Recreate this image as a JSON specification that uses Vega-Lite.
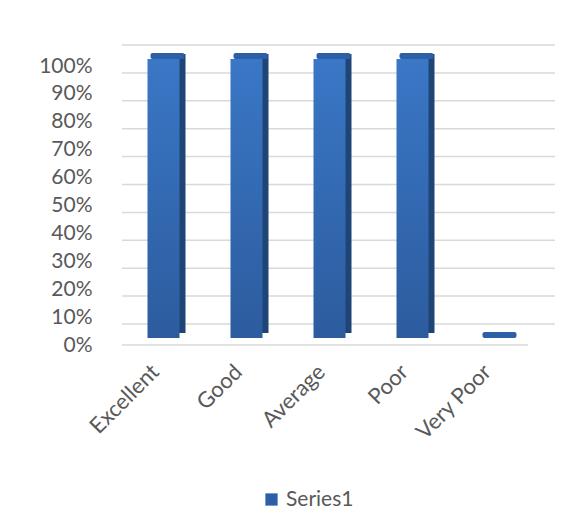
{
  "$schema": "https://vega.github.io/schema/vega-lite/v6.json",
  "autosize": "none",
  "width": 415,
  "height": 279,
  "padding": {"left": 122, "top": 59, "right": 51, "bottom": 191},
  "background": "white",
  "config": {"view": {"stroke": null}, "font": "Lato"},
  "datasets": {
    "bars": [
      {"cat": "Excellent", "value": 1, "series": "Series1"},
      {"cat": "Good", "value": 1, "series": "Series1"},
      {"cat": "Average", "value": 1, "series": "Series1"},
      {"cat": "Poor", "value": 1, "series": "Series1"},
      {"cat": "Very Poor", "value": 0, "series": "Series1"}
    ],
    "grid": [
      {"value": 0}, {"value": 0.1}, {"value": 0.2}, {"value": 0.3}, {"value": 0.4}, {"value": 0.5},
      {"value": 0.6}, {"value": 0.7}, {"value": 0.8}, {"value": 0.9}, {"value": 1}
    ]
  },
  "encoding": {
    "y": {"field": "value", "type": "quantitative", "scale": {"domain": [0, 1]},
          "axis": {"title": null, "domain": false, "ticks": false, "grid": false, "format": ".0%",
                   "values": [0, 0.1, 0.2, 0.3, 0.4, 0.5, 0.6, 0.7, 0.8, 0.9, 1], "tickCount": 11, "labelOverlap": false,
                   "labelOffset": 7, "labelPadding": 30, "labelFontSize": 21, "labelColor": "#595959", "labelFont": "Lato"}}
  },
  "layer": [
    {
      "data": {"name": "grid"},
      "mark": {"type": "rule", "color": "#D9D9D9", "strokeWidth": 1.5, "xOffset": 18, "x2Offset": 16, "yOffset": -14},
      "encoding": {}
    },
    {
      "data": {"name": "grid"},
      "transform": [{"filter": "datum.value == 0"}],
      "mark": {"type": "rule", "color": "#D9D9D9", "strokeWidth": 1.5, "xOffset": -9, "x2Offset": -10, "yOffset": 7},
      "encoding": {}
    },
    {
      "data": {"name": "bars"},
      "mark": {"type": "bar", "size": 32, "xOffset": 6, "yOffset": -5, "y2Offset": -5, "color": "#1F4476"},
      "encoding": {
        "x": {"field": "cat", "type": "nominal", "sort": null,
              "scale": {"paddingInner": 0, "paddingOuter": 0},
              "axis": {"title": null, "domain": false, "ticks": false, "labelAngle": -45, "labelAlign": "right", "labelBaseline": "middle",
                       "labelPadding": 30, "labelOffset": -8, "labelFontSize": 22, "labelColor": "#595959", "labelFont": "Lato", "labelFontWeight": "normal"}}
      }
    },
    {
      "data": {"name": "bars"},
      "mark": {"type": "bar", "size": 32, "color": {"gradient": "linear", "x1": 0, "y1": 0, "x2": 0, "y2": 1,
               "stops": [{"offset": 0, "color": "#3A77C6"}, {"offset": 1, "color": "#2C5C9E"}]}},
      "encoding": {
        "x": {"field": "cat", "type": "nominal", "sort": null}
      }
    },
    {
      "data": {"name": "bars"},
      "mark": {"type": "tick", "orient": "horizontal", "size": 34, "thickness": 6, "xOffset": 4, "yOffset": -3, "cornerRadius": 2, "opacity": 1},
      "encoding": {
        "x": {"field": "cat", "type": "nominal", "sort": null},
        "color": {"field": "series", "type": "nominal", "scale": {"range": ["#2C5FA6"]},
                  "legend": {"title": null, "orient": "none", "legendX": 139, "legendY": 430, "symbolType": "square", "symbolSize": 150,
                             "symbolStrokeWidth": 0, "symbolOpacity": 1, "labelFontSize": 21, "labelColor": "#595959", "labelFont": "Lato", "symbolOffset": 0}}
      }
    }
  ]
}
